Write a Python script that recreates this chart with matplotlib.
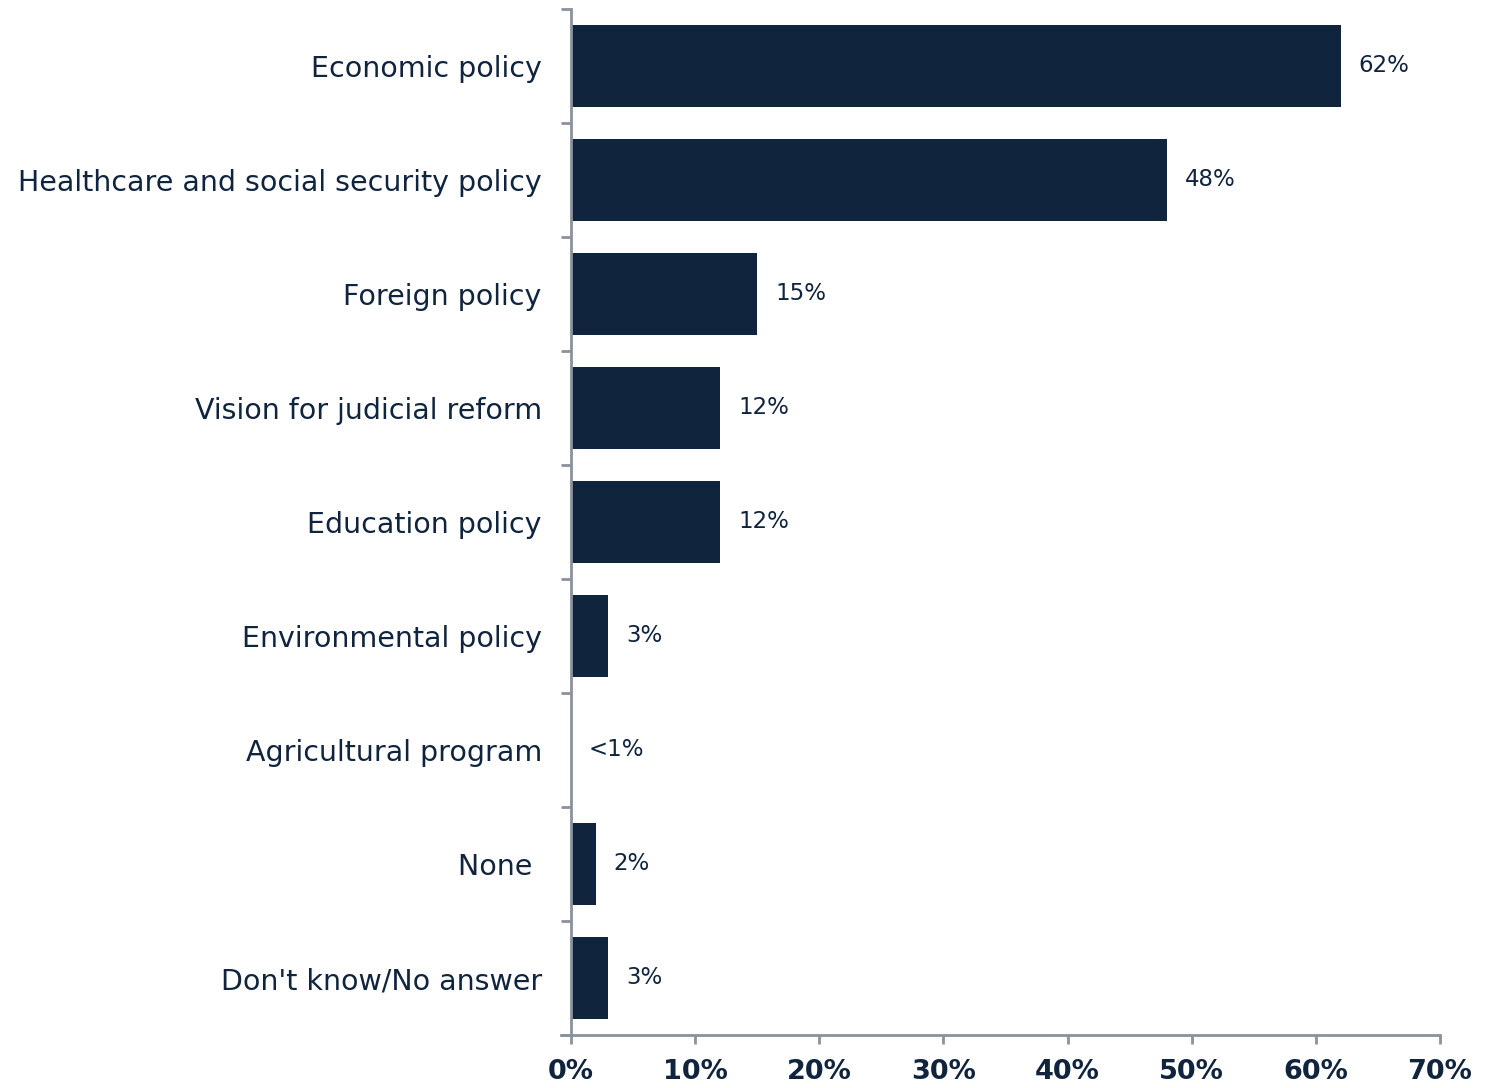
import numpy as np
import matplotlib.pyplot as plt
from matplotlib.ticker import MultipleLocator, FuncFormatter

# survey data
categories = ['Economic policy', 'Healthcare and social security policy', 'Foreign policy',
              'Vision for judicial reform', 'Education policy', 'Environmental policy',
              'Agricultural program', 'None ', "Don't know/No answer"]
values = [62, 48, 15, 12, 12, 3, 0, 2, 3]
labels = ['62%', '48%', '15%', '12%', '12%', '3%', '<1%', '2%', '3%']

navy = '#10243e'
grey = '#8a929c'

fig = plt.figure(figsize=(14.9, 10.88), dpi=100)
ax = fig.add_axes([571/1490, 1-1035/1088, (1440-571)/1490, (1035-9)/1088])

y = np.arange(len(categories))
ax.barh(y, values, height=0.72, color=navy)
for yi, v, lab in zip(y, values, labels):
    ax.text(v + 1.45, yi, lab, va='center', ha='left', fontsize=16.5, color=navy)

ax.set_ylim(len(categories) - 0.5, -0.5)
ax.set_xlim(0, 70)

# y ticks sit between the categories
ax.set_yticks(np.arange(len(categories) + 1) - 0.5)
ax.set_yticklabels([])
ax.set_yticks(y, minor=True)
ax.set_yticklabels(categories, minor=True, fontsize=20.5, color=navy)
ax.tick_params(axis='y', which='minor', length=0, pad=21)
ax.tick_params(axis='y', which='major', length=7, width=2, color=grey, direction='out')

ax.xaxis.set_major_locator(MultipleLocator(10))
ax.xaxis.set_major_formatter(FuncFormatter(lambda v, p: '%d%%' % v))
ax.tick_params(axis='x', length=6.5, width=2, color=grey, pad=11, labelsize=19.5, labelcolor=navy)
for t in ax.get_xticklabels():
    t.set_fontweight('bold')

for s in ['top', 'right']:
    ax.spines[s].set_visible(False)
for s in ['left', 'bottom']:
    ax.spines[s].set_color(grey)
    ax.spines[s].set_linewidth(2)
ax.spines['bottom'].set_bounds(-0.8, 70)

plt.savefig('out.png', dpi=100)
